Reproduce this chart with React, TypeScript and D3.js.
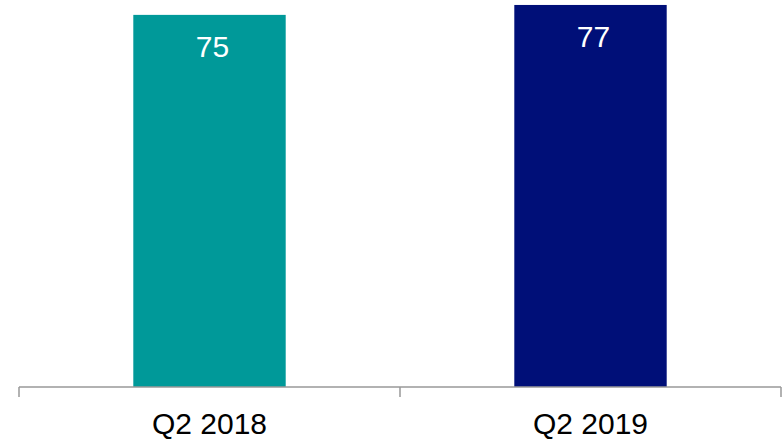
import React from "react";
import * as d3 from "d3";

const categories = ["Q2 2018", "Q2 2019"];
const values = [75, 77];
const colors = ["#009999", "#000F78"];

const W = 782;
const H = 439;

export default function App() {
  const x = d3.scaleBand<string>().domain(categories).range([19, 781]).paddingInner(0.6).paddingOuter(0.3);
  const axisX = d3.scaleBand<string>().domain(categories).range([19, 781]).padding(0);
  const y = d3.scaleLinear().domain([0, 78]).range([387, 0]);
  const font = "'Liberation Sans', Arial, sans-serif";
  const tickXs = [axisX.range()[0], ...categories.map((c) => (axisX(c) as number) + axisX.bandwidth())];
  return (
    <svg width={W} height={H} style={{ position: "absolute", left: 0, top: 0, background: "#fff" }} fontFamily={font}>
      {categories.map((c, i) => (
        <g key={c}>
          <rect x={x(c)} y={y(values[i])} width={x.bandwidth()} height={y(0) - y(values[i])} fill={colors[i]} />
          <text x={(x(c) as number) + x.bandwidth() / 2 + 3} y={y(values[i]) + 42} fill="#fff" fontSize={30} textAnchor="middle">
            {values[i]}
          </text>
          <text x={(axisX(c) as number) + axisX.bandwidth() / 2} y={434} fill="#000" fontSize={30} textAnchor="middle">
            {c}
          </text>
        </g>
      ))}
      <line x1={19} x2={781} y1={387} y2={387} stroke="#999" strokeWidth={1.5} />
      {tickXs.map((t, i) => (
        <line key={i} x1={t} x2={t} y1={387} y2={397} stroke="#999" strokeWidth={1.5} />
      ))}
    </svg>
  );
}
